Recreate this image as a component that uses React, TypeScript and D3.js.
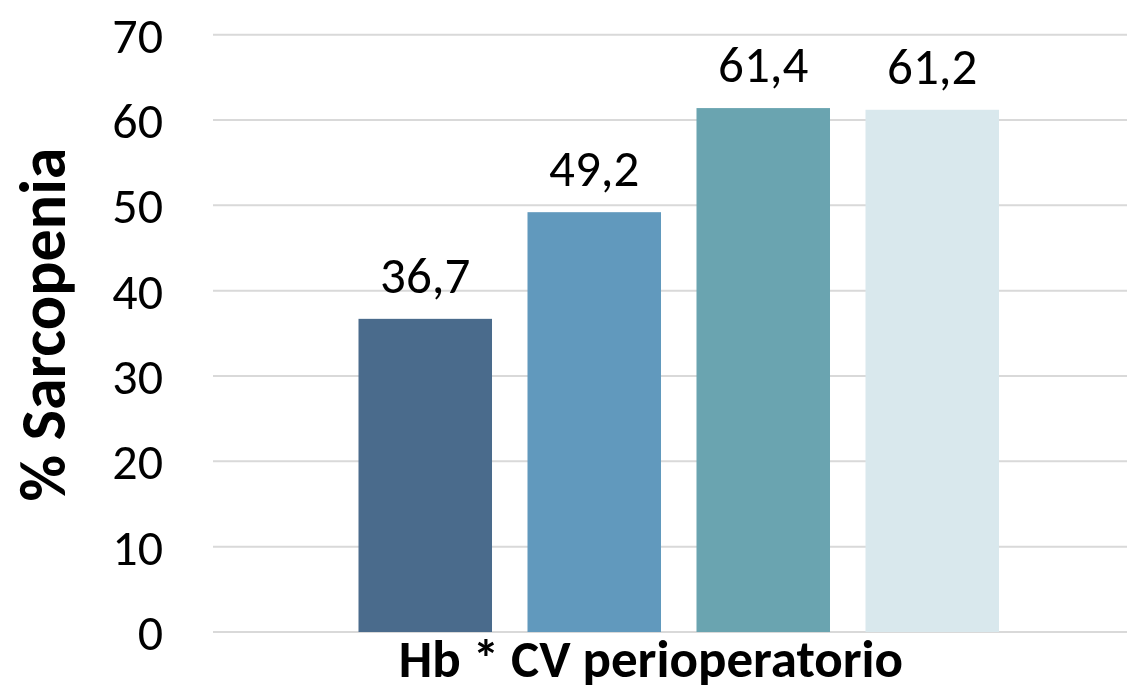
import React, { useEffect, useRef } from 'react';
import * as d3 from 'd3';

const seriesNames = ['s1', 's2', 's3', 's4'];
const values = [36.7, 49.2, 61.4, 61.2];
const valueLabels = ['36,7', '49,2', '61,4', '61,2'];
const barColors = ['#4a6b8c', '#6199bd', '#6aa4b0', '#d9e8ed'];
const yTicks = [0, 10, 20, 30, 40, 50, 60, 70];
const xTitle = 'Hb * CV perioperatorio';
const yTitle = '% Sarcopenia';

const W = 1127;
const H = 695;
const FONT = 'Carlito, Calibri, Lato, sans-serif';

const App = () => {
  const ref = useRef<SVGSVGElement>(null);

  useEffect(() => {
    document.body.style.margin = '0';
    const svg = d3.select(ref.current);
    svg.selectAll('*').remove();

    const plotLeft = 213;
    const plotRight = W;
    const y = d3.scaleLinear().domain([0, 70]).range([632, 34.7]);
    const x = d3.scaleBand<string>()
      .domain(seriesNames)
      .range([358.5, 999])
      .paddingInner(0.21)
      .paddingOuter(0);

    // gridlines
    svg.append('g')
      .selectAll('line')
      .data(yTicks)
      .enter().append('line')
      .attr('x1', plotLeft)
      .attr('x2', plotRight)
      .attr('y1', d => y(d))
      .attr('y2', d => y(d))
      .attr('stroke', '#d9d9d9')
      .attr('stroke-width', 2);

    // tick labels
    svg.append('g')
      .selectAll('text')
      .data(yTicks)
      .enter().append('text')
      .attr('x', 163)
      .attr('y', d => y(d) + 18)
      .attr('text-anchor', 'end')
      .attr('font-family', FONT)
      .attr('font-size', 50)
      .attr('fill', '#000')
      .text(d => d);

    // bars
    svg.append('g')
      .selectAll('rect')
      .data(values)
      .enter().append('rect')
      .attr('x', (d, i) => x(seriesNames[i]) as number)
      .attr('width', x.bandwidth())
      .attr('y', d => y(d))
      .attr('height', d => y(0) - y(d))
      .attr('fill', (d, i) => barColors[i]);

    // value labels
    svg.append('g')
      .selectAll('text')
      .data(values)
      .enter().append('text')
      .attr('x', (d, i) => (x(seriesNames[i]) as number) + x.bandwidth() / 2)
      .attr('y', d => y(d) - 26)
      .attr('text-anchor', 'middle')
      .attr('font-family', FONT)
      .attr('font-size', 51)
      .attr('fill', '#000')
      .text((d, i) => valueLabels[i]);

    // x title
    svg.append('text')
      .attr('x', 651)
      .attr('y', 677)
      .attr('text-anchor', 'middle')
      .attr('font-family', FONT)
      .attr('font-weight', 'bold')
      .attr('font-size', 53)
      .attr('fill', '#000')
      .text(xTitle);

    // y title
    svg.append('text')
      .attr('transform', 'translate(65,324.5) rotate(-90)')
      .attr('text-anchor', 'middle')
      .attr('font-family', FONT)
      .attr('font-weight', 'bold')
      .attr('font-size', 64)
      .attr('fill', '#000')
      .text(yTitle);
  }, []);

  return (
    <div>
      <svg ref={ref} width={W} height={H} style={{ display: 'block', background: '#fff' }}></svg>
    </div>
  );
};

export default App;
